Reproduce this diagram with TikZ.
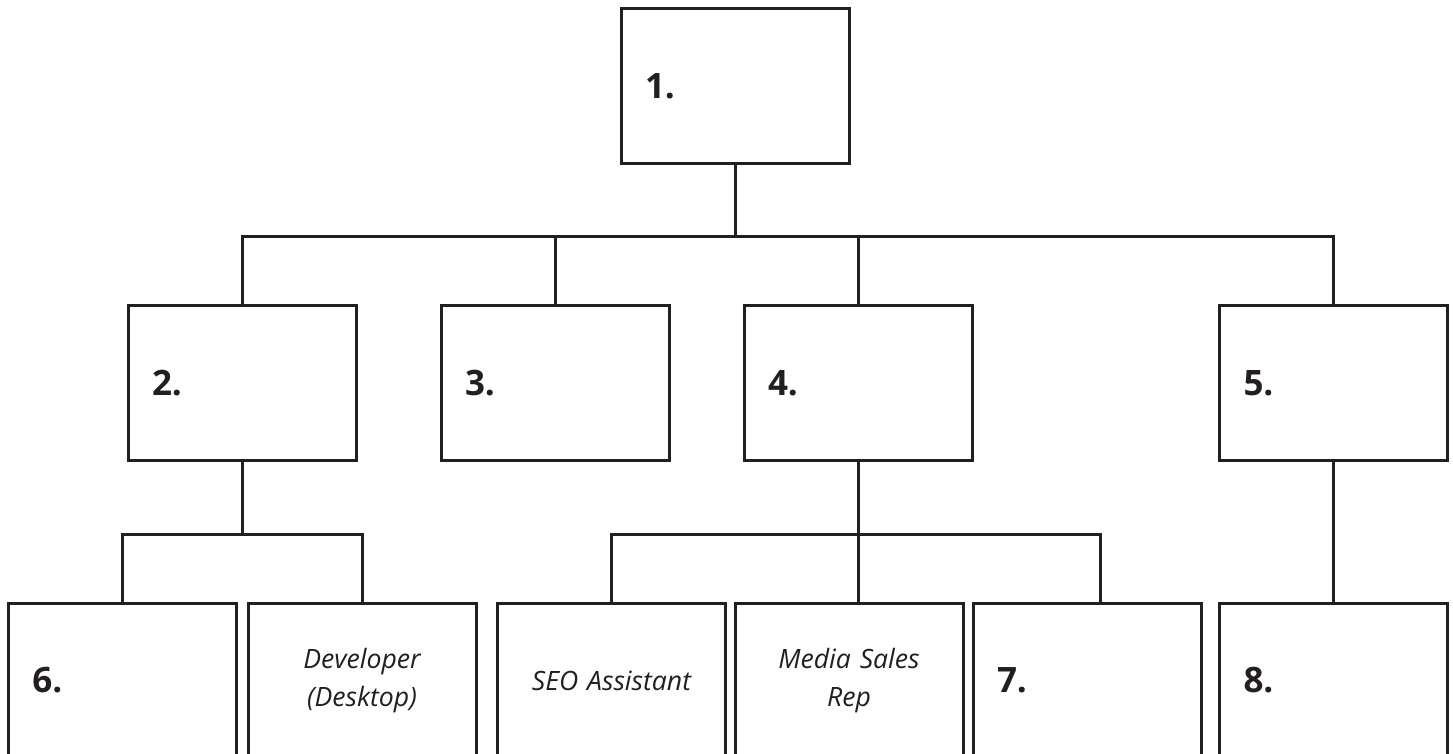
\documentclass[tikz,border=0pt]{standalone}
\usepackage{fontspec}
\setmainfont{Open Sans}
\usetikzlibrary{positioning}
\definecolor{ink}{HTML}{231F20}
\tikzset{
  orgbox/.style={draw=ink, line width=1.5pt, fill=white, minimum width=114pt,
    minimum height=77.5pt, inner xsep=12pt, text width=90pt, text=ink},
  numbox/.style={orgbox, align=left, font=\fontsize{17.5}{20}\selectfont\bfseries},
  rolebox/.style={orgbox, align=center, font=\fontsize{13.3}{19}\selectfont\itshape},
  link/.style={draw=ink, line width=1.5pt}
}
\begin{document}
\begin{tikzpicture}[x=0.5pt, y=-0.5pt]

  % Page frame
  \clip (0,0) rectangle (1453,754);

  % Top level
  \node[numbox] (n1) at (735,86.5) {1.};

  % Second level
  \node[numbox] (n2) at (242,383.5) {2.};
  \node[numbox] (n3) at (555,383.5) {3.};
  \node[numbox] (n4) at (858,383.5) {4.};
  \node[numbox] (n5) at (1333.5,383.5) {5.};

  % Third level (cut by the bottom edge)
  \node[numbox] (n6) at (122.5,680.5) {6.};
  \node[rolebox] (dev) at (362,680.5) {Developer\\(Desktop)};
  \node[rolebox] (seo) at (611.5,680.5) {SEO Assistant};
  \node[rolebox] (media) at (849,680.5) {Media Sales\\Rep};
  \node[numbox] (n7) at (1087,680.5) {7.};
  \node[numbox] (n8) at (1333.5,680.5) {8.};

  % Bus from 1 to second level
  \coordinate (bus1) at (735,237);
  \draw[link] (n1.south) -- (bus1);
  \draw[link] (n2.north) |- (bus1) -| (n5.north);
  \draw[link] (n3.north) -- (n3.north |- bus1);
  \draw[link] (n4.north) -- (n4.north |- bus1);

  % Bus from 2
  \coordinate (bus2) at (242,535);
  \draw[link] (n2.south) -- (bus2);
  \draw[link] (n6.north) |- (bus2) -| (dev.north);

  % Bus from 4
  \coordinate (bus3) at (858,535);
  \coordinate (j7) at (1100,603);
  \draw[link] (n4.south) -- (bus3) -- (bus3 |- media.north);
  \draw[link] (seo.north) |- (bus3) -| (j7);

  % Straight drop from 5
  \draw[link] (n5.south) -- (n8.north);

\end{tikzpicture}
\end{document}
